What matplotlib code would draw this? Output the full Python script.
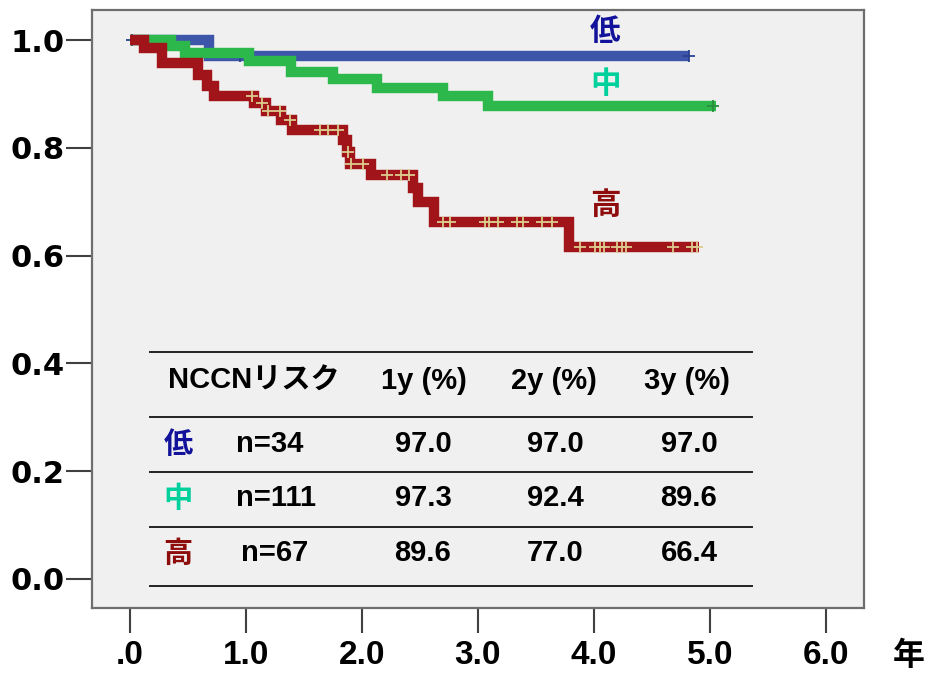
import numpy as np
import matplotlib
matplotlib.use("Agg")
import matplotlib.pyplot as plt
from matplotlib.lines import Line2D

# Kaplan-Meier curves (time in years, survival)
low_t = [0, 0.68, 4.82]
low_s = [1.0, 0.970, 0.970]
low_cens = [0.02, 0.95, 0.99, 4.82]

mid_t = [0, 0.35, 0.47, 1.03, 1.39, 1.75, 2.13, 2.70, 3.09, 5.05]
mid_s = [1.0, 0.990, 0.976, 0.961, 0.940, 0.927, 0.912, 0.896, 0.877, 0.877]
mid_cens = [5.03]

high_t = [0, 0.12, 0.28, 0.59, 0.66, 0.72, 1.07, 1.17, 1.30, 1.40, 1.84, 1.87,
          1.90, 2.08, 2.44, 2.48, 2.62, 3.79, 4.91]
high_s = [1.0, 0.985, 0.958, 0.935, 0.915, 0.896, 0.883, 0.868, 0.851, 0.833,
          0.814, 0.793, 0.771, 0.749, 0.726, 0.700, 0.663, 0.616, 0.616]
high_cens = [1.05, 1.14, 1.19, 1.29, 1.38, 1.64, 1.71, 1.79, 1.88, 1.91, 2.01,
             2.22, 2.34, 2.41, 2.70, 2.76, 3.06, 3.10, 3.17, 3.34, 3.39, 3.55,
             3.64, 3.88, 4.01, 4.05, 4.09, 4.20, 4.24, 4.28, 4.68, 4.85, 4.89]

x_ticks = [0, 1, 2, 3, 4, 5, 6]
x_labels = [".0", "1.0", "2.0", "3.0", "4.0", "5.0", "6.0"]
y_ticks = [0.0, 0.2, 0.4, 0.6, 0.8, 1.0]
y_labels = ["0.0", "0.2", "0.4", "0.6", "0.8", "1.0"]

groups = ["低", "中", "高"]
group_colors = ["#12129a", "#00d09c", "#8e0c0c"]
group_n = ["n=34", "n=111", "n=67"]
table_head = ["NCCNリスク", "1y (%)", "2y (%)", "3y (%)"]
rate_1y = ["97.0", "97.3", "89.6"]
rate_2y = ["97.0", "92.4", "77.0"]
rate_3y = ["97.0", "89.6", "66.4"]

W, H = 929, 676
fig = plt.figure(figsize=(W / 100, H / 100), dpi=100)
ax = fig.add_axes([92 / W, 1 - 608 / H, (864 - 92) / W, (608 - 10) / H])
ax.set_facecolor("#f0f0f0")
ax.set_xlim(-0.328, 6.33)
ax.set_ylim(-0.054, 1.056)

def surv_at(t, s, c):
    idx = np.searchsorted(t, c, side="right") - 1
    return np.array(s)[idx]

curves = [
    (low_t, low_s, low_cens, "#3d56aa", "#28408f"),
    (mid_t, mid_s, mid_cens, "#2cb84a", "#2a8f3a"),
    (high_t, high_s, high_cens, "#a0141a", "#dccb8e"),
]
for t, s, cens, col, mcol in curves:
    ax.step(t, s, where="post", color=col, lw=7.5,
            solid_joinstyle="miter", solid_capstyle="butt")
    ax.plot(cens, surv_at(t, s, cens), ls="none", marker="+", ms=9,
            mew=1.3, color=mcol)

# curve labels
for g, col, yv in zip(groups, group_colors, [1.017, 0.918, 0.695]):
    ax.text(4.1, yv, g, color=col, fontsize=22, fontweight="bold",
            family=["Noto Sans CJK JP"], ha="center", va="center")

ax.set_xticks(x_ticks)
ax.set_xticklabels(x_labels, fontsize=24, fontweight="bold",
                   family=["Liberation Sans Narrow", "Liberation Sans"])
ax.set_yticks(y_ticks)
ax.set_yticklabels(y_labels, fontsize=22, fontweight="bold",
                   family=["DejaVu Sans"])
ax.tick_params(axis="x", length=18, width=1.5, color="#404040", pad=5)
ax.tick_params(axis="y", length=19, width=1.5, color="#404040", pad=1)
for sp in ax.spines.values():
    sp.set_color("#6e6e6e")
    sp.set_linewidth(1.6)

fig.text(909 / W, 1 - 656 / H, "年", fontsize=23, fontweight="bold",
         family=["Noto Sans CJK JP"], ha="center", va="center")

# table drawn inside the plot
def fx(x):
    return x / W

def fy(y):
    return 1 - y / H

for yl in [352, 417, 472, 527, 586]:
    fig.add_artist(Line2D([fx(150), fx(752)], [fy(yl), fy(yl)],
                          color="#222222", lw=1.4))

txt = dict(fontsize=21, fontweight="bold",
           family=["Liberation Sans", "Noto Sans CJK JP"], va="center")
fig.text(fx(168), fy(381), table_head[0], ha="left", **txt)
for xc, h in zip([424, 554, 687], table_head[1:]):
    fig.text(fx(xc), fy(381), h, ha="center", **txt)

row_y = [444, 498, 553]
for i in range(3):
    fig.text(fx(178), fy(row_y[i]), groups[i], color=group_colors[i],
             fontsize=21, fontweight="bold", family=["Noto Sans CJK JP"],
             ha="center", va="center")
    fig.text(fx(236 if i < 2 else 241), fy(row_y[i]), group_n[i], ha="left", **txt)
    fig.text(fx(423), fy(row_y[i]), rate_1y[i], ha="center", **txt)
    fig.text(fx(555), fy(row_y[i]), rate_2y[i], ha="center", **txt)
    fig.text(fx(689), fy(row_y[i]), rate_3y[i], ha="center", **txt)

fig.savefig("out.png", dpi=100, facecolor="white")
